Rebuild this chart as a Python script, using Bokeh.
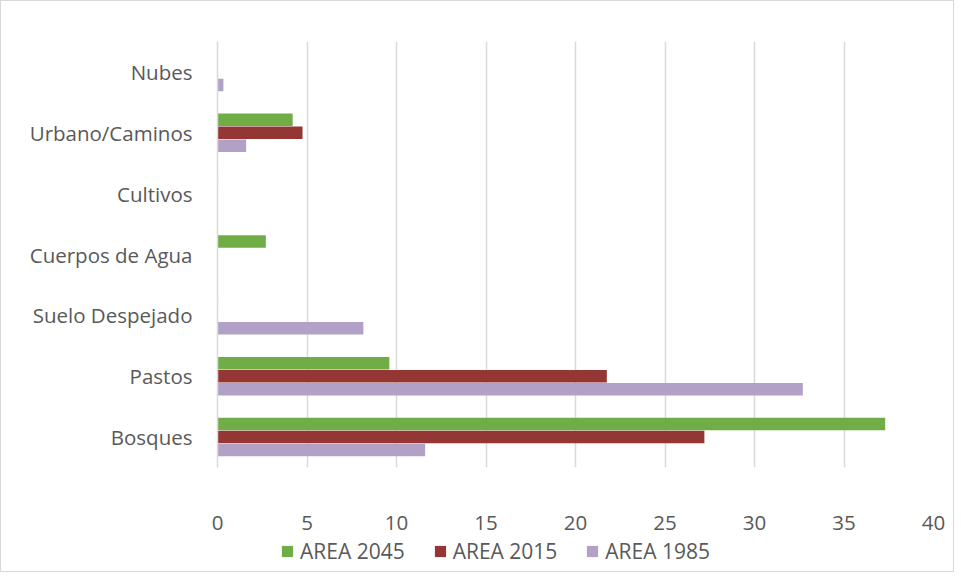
from bokeh.plotting import figure
from bokeh.models import ColumnDataSource, Legend, LegendItem, FactorRange, FixedTicker, Range1d
from bokeh.layouts import column
from bokeh.transform import dodge
from bokeh.embed import file_html
from bokeh.resources import INLINE

categories = ["Bosques", "Pastos", "Suelo Despejado", "Cuerpos de Agua", "Cultivos", "Urbano/Caminos", "Nubes"]
area_2045 = [37.3, 9.6, 0.03, 2.7, 0.03, 4.2, 0.0]
area_2015 = [27.2, 21.75, 0.0, 0.0, 0.0, 4.75, 0.0]
area_1985 = [11.6, 32.7, 8.15, 0.0, 0.0, 1.6, 0.33]
series_labels = ["AREA 2045", "AREA 2015", "AREA 1985"]
x_ticks = [0, 5, 10, 15, 20, 25, 30, 35, 40]

colors = ["#70AD47", "#943634", "#B2A1C7"]
FONT = "Open Sans"
TXT = "#595959"
FS = "20.5px"

src = ColumnDataSource(dict(cat=categories, a2045=area_2045, a2015=area_2015, a1985=area_1985))
cols = ["a2045", "a2015", "a1985"]

p = figure(width=952, height=536, y_range=FactorRange(*categories), x_range=(0, 40),
           output_backend="svg", toolbar_location=None,
           min_border_left=216, min_border_right=20, min_border_top=40, min_border_bottom=70)
p.outline_line_color = None

off = 0.213
h = 0.205
offsets = [off, 0, -off]
for c, o, col in zip(cols, offsets, colors):
    p.hbar(y=dodge("cat", o, range=p.y_range), right=c, left=0, height=h, source=src,
           fill_color=col, line_color=None)

p.xaxis.ticker = FixedTicker(ticks=x_ticks)
p.xaxis.axis_line_color = None
p.xaxis.major_tick_line_color = None
p.xaxis.minor_tick_line_color = None
p.xaxis.major_label_text_font = FONT
p.xaxis.major_label_text_font_size = FS
p.xaxis.major_label_text_color = TXT
p.xaxis.major_label_standoff = 42

p.yaxis.axis_line_color = "#d9d9d9"
p.yaxis.axis_line_width = 1.5
p.yaxis.major_tick_line_color = None
p.yaxis.minor_tick_line_color = None
p.yaxis.major_label_text_font = FONT
p.yaxis.major_label_text_font_size = FS
p.yaxis.major_label_text_color = TXT
p.yaxis.major_label_standoff = 19

p.xgrid.grid_line_color = "#d9d9d9"
p.xgrid.grid_line_width = 1.5
p.ygrid.grid_line_color = None

# legend strip below the chart (its bars have no height and lie outside its view)
p2 = figure(width=952, height=34, output_backend="svg", toolbar_location=None,
            x_axis_type=None, y_axis_type=None,
            y_range=FactorRange(*categories), x_range=Range1d(-2, -1),
            min_border_left=216, min_border_right=20, min_border_top=0, min_border_bottom=0)
p2.outline_line_color = None
p2.xgrid.grid_line_color = None
p2.ygrid.grid_line_color = None
items = []
for lab, c, col in zip(series_labels, cols, colors):
    r = p2.hbar(y="cat", right=c, left=0, height=0, source=src,
                fill_color=col, line_color=None)
    items.append(LegendItem(label=lab, renderers=[r]))

legend = Legend(items=items, orientation="horizontal", location=(63, 6),
                glyph_width=14, glyph_height=14, label_standoff=6, spacing=28,
                padding=0, margin=0, border_line_color=None, background_fill_alpha=0,
                label_text_font=FONT, label_text_font_size="21px", label_text_color=TXT)
p2.add_layout(legend, "center")

layout = column(p, p2, spacing=0)
layout.styles = {"border": "1px solid #d9d9d9"}

open("out.html", "w").write(file_html(layout, INLINE))
